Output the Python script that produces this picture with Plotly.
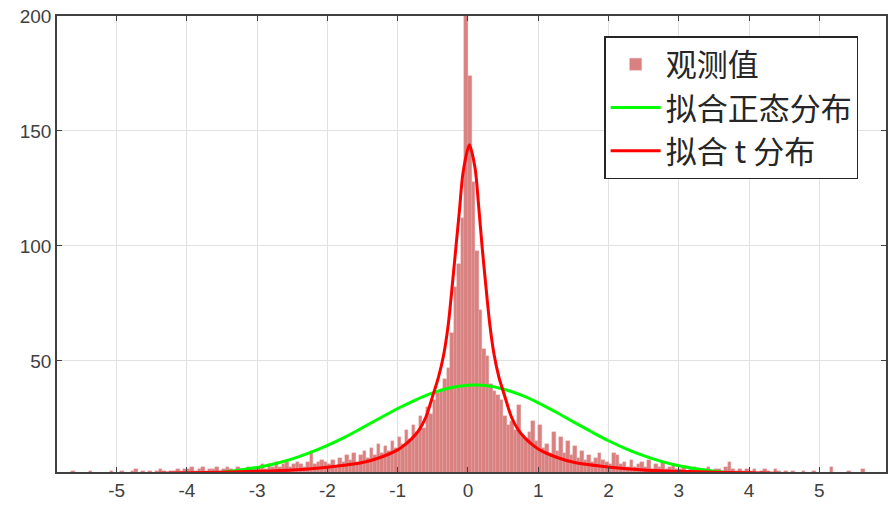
import plotly.graph_objects as go

# histogram of observed values (bin width 0.05, first bin starts at -5.8)
bin_start = -5.8
bin_width = 0.05
counts = [
    # -5.8 .. -5.0
    1, 0, 1, 2, 1, 0, 1, 1, 2, 1, 0, 1, 1, 0, 2, 1,
    # -5.0 .. -4.0
    1, 2, 1, 1, 2, 3, 1, 2, 1, 2, 1, 2, 3, 2, 1, 2, 2, 3, 2, 3,
    # -4.0 .. -3.0
    3, 4, 2, 3, 4, 2, 3, 3, 4, 2, 3, 4, 3, 2, 4, 3, 3, 4, 3, 4,
    # -3.0 .. -2.0
    4, 5, 3, 5, 4, 6, 4, 5, 6, 4, 5, 6, 5, 4, 6, 11, 5, 6, 7, 6,
    # -2.0 .. -1.0
    5, 7, 4, 8, 6, 9, 7, 10, 6, 9, 11, 8, 12, 9, 14, 10, 13, 11, 15, 12,
    # -1.0 .. 0.0
    17, 14, 20, 16, 22, 19, 26, 21, 30, 27,
    33, 36, 38, 42, 47, 62, 82, 92, 112, 208,
    # 0.0 .. 1.0
    174, 128, 98, 72, 55, 52, 40, 37, 35, 33,
    26, 22, 24, 20, 31, 18, 16, 19, 24, 15,
    # 1.0 .. 2.0
    22, 12, 14, 10, 19, 11, 17, 10, 15, 9, 13, 8, 11, 7, 9, 6, 8, 10, 7, 6,
    # 2.0 .. 3.0
    5, 10, 9, 5, 6, 4, 7, 4, 5, 6, 4, 7, 3, 5, 4, 6, 3, 4, 5, 3,
    # 3.0 .. 4.0
    3, 4, 2, 3, 4, 3, 2, 3, 4, 2, 3, 3, 2, 4, 6, 3, 2, 3, 2, 3,
    # 4.0 .. 5.0
    2, 3, 1, 2, 3, 2, 1, 3, 2, 1, 2, 1, 2, 1, 1, 2, 1, 1, 2, 1,
    # 5.0 .. 5.9
    1, 1, 0, 4, 1, 1, 0, 1, 2, 1, 1, 0, 3, 1, 0, 1, 1, 0,
]
bin_centers = [bin_start + bin_width * (i + 0.5) for i in range(len(counts))]

# fitted normal curve
normal_x = [-4.4, -4.0, -3.5, -3.0, -2.75, -2.5, -2.25, -2.0, -1.75, -1.5,
            -1.25, -1.0, -0.75, -0.5, -0.25, 0.0, 0.1, 0.25, 0.5, 0.75,
            1.0, 1.25, 1.5, 1.75, 2.0, 2.25, 2.5, 2.75, 3.0, 3.5, 4.0, 4.4]
normal_y = [0.3, 0.6, 1.6, 3.7, 5.3, 7.4, 10.1, 13.3, 16.9, 21.0,
            25.2, 29.3, 33.0, 36.1, 38.3, 39.4, 39.5, 39.3, 37.8, 35.2,
            31.8, 27.8, 23.5, 19.3, 15.3, 11.8, 8.8, 6.3, 4.4, 2.0, 0.8, 0.4]

# fitted t curve
t_x = [-4.4, -3.5, -3.0, -2.5, -2.0, -1.5, -1.25, -1.0, -0.9, -0.8, -0.7,
       -0.6, -0.5, -0.42, -0.35, -0.28, -0.22, -0.17, -0.12, -0.07, 0.02,
       0.1, 0.15, 0.2, 0.25, 0.31, 0.37, 0.44, 0.52, 0.62, 0.72, 0.82,
       0.92, 1.02, 1.27, 1.52, 2.02, 2.5, 3.0, 3.5, 4.4]
t_y = [1.2, 1.6, 2.0, 2.6, 3.8, 5.8, 8.0, 11.3, 13.5, 16.2, 19.8,
       25.5, 35.0, 43.0, 52.0, 66.0, 84.0, 100.0, 116.0, 132.0, 144.0,
       134.0, 118.0, 100.0, 84.0, 66.0, 53.0, 43.0, 35.0, 25.5, 19.8, 16.2,
       13.5, 11.3, 8.0, 5.8, 3.8, 2.6, 2.0, 1.6, 1.2]

x_ticks = [-5, -4, -3, -2, -1, 0, 1, 2, 3, 4, 5]
y_ticks = [50, 100, 150, 200]

fig = go.Figure()

fig.add_trace(go.Bar(
    x=bin_centers,
    y=counts,
    width=bin_width,
    name='观测值',
    marker=dict(color='#D98080', line=dict(color='#E6A3A3', width=0.4)),
))

fig.add_trace(go.Scatter(
    x=normal_x,
    y=normal_y,
    mode='lines',
    name='拟合正态分布',
    line=dict(color='#00FF00', width=3, shape='spline', smoothing=1),
))

fig.add_trace(go.Scatter(
    x=t_x,
    y=t_y,
    mode='lines',
    name='拟合 t 分布',
    line=dict(color='#FF0000', width=3, shape='spline', smoothing=0.8),
))

axis_style = dict(
    showline=True,
    linecolor='#404040',
    linewidth=1.5,
    mirror='ticks',
    ticks='inside',
    ticklen=5,
    tickcolor='#404040',
    showgrid=True,
    gridcolor='#E2E2E2',
    gridwidth=1,
    zeroline=False,
    automargin=False,
    ticklabeloverflow='allow',
    tickfont=dict(family='Liberation Sans, Arial, sans-serif', size=19, color='#404040'),
)

fig.update_xaxes(
    range=[-5.85, 5.95],
    tickvals=x_ticks,
    ticktext=[str(v) for v in x_ticks],
    **axis_style,
)
fig.update_yaxes(
    range=[1.7, 200],
    tickvals=y_ticks,
    ticktext=[str(v) for v in y_ticks],
    **axis_style,
)

fig.update_layout(
    width=894,
    height=522,
    margin=dict(l=57, r=8, t=16, b=50),
    plot_bgcolor='white',
    paper_bgcolor='white',
    bargap=0,
    showlegend=True,
    legend=dict(
        x=0.66,
        y=0.956,
        xanchor='left',
        yanchor='top',
        bgcolor='white',
        bordercolor='#262626',
        borderwidth=1.5,
        itemwidth=50,
        tracegroupgap=0,
        font=dict(family='Noto Sans CJK SC', size=31, color='#262626'),
    ),
)

# drop the default 8px page margin so the figure sits at the window corner
fig.write_html(
    "out.html",
    config={'displayModeBar': False},
    post_script="document.body.style.margin='0';",
)
